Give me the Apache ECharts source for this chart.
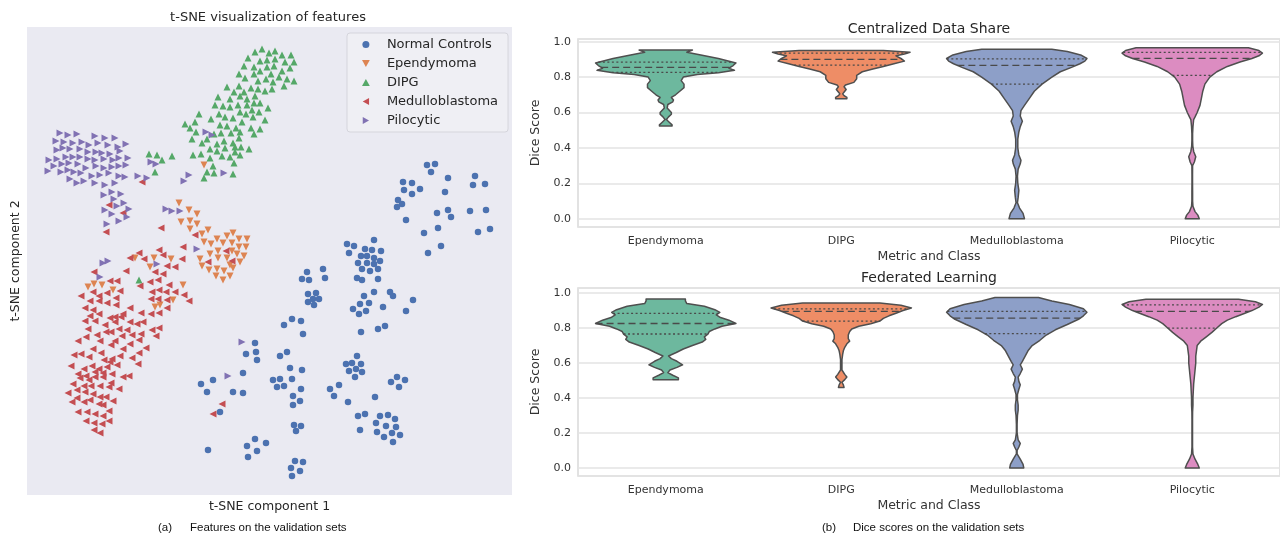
<!DOCTYPE html>
<html>
<head>
<meta charset="utf-8">
<script src="https://cdn.jsdelivr.net/npm/echarts@6/dist/echarts.min.js"></script>
<style>
  html, body { margin: 0; padding: 0; background: #ffffff; }
  #chart { width: 1280px; height: 535px; }
</style>
</head>
<body>
<div id="chart"></div>
<script>
// ---------- t-SNE embedding (component 1, component 2) ----------
const normalControls = [
  [15.7,9.5],[16.5,9.6],[16.1,8.8],[17.8,8.2],[13.3,7.8],[14.2,7.7],[13.4,7.0],[14.2,6.6],[15.0,7.1],[17.5,6.8],
  [20.5,8.4],[20.3,7.5],[21.5,7.6],[12.8,6.0],[13.2,5.6],[12.7,5.3],[13.6,4.0],[16.7,4.7],[17.8,5.0],[18.1,4.3],
  [20.0,4.9],[21.6,5.0],[16.8,3.2],[15.4,2.7],[20.8,2.8],[22.0,3.1],[17.1,1.4],[15.8,0.7],
  [10.4,2.0],[7.7,1.6],[8.4,1.4],[7.9,0.7],[9.5,1.1],[10.2,1.0],[11.1,0.9],[9.1,0.4],[9.7,0.4],[10.4,0.2],
  [8.8,-0.3],[9.7,-0.3],[10.4,-0.4],[11.0,-0.1],[9.2,-0.9],[10.0,-1.1],[10.8,-0.9],[8.7,-1.8],[9.2,-2.0],[10.8,-1.9],
  [3.7,-1.2],[5.3,-0.9],[3.2,-1.9],[3.9,-2.0],[5.5,-1.8],
  [3.8,-3.4],[4.6,-3.3],[4.3,-3.9],[4.9,-3.9],[3.8,-4.2],[4.4,-4.5],
  [9.4,-3.6],[10.4,-3.2],[12.0,-3.2],[12.3,-3.6],[14.3,-4.0],[8.3,-4.9],[9.0,-4.4],[9.9,-4.3],[9.6,-5.1],[11.3,-4.7],
  [8.9,-5.4],[13.6,-5.1],[9.1,-7.2],[10.8,-6.9],[11.5,-6.6],
  [2.2,-5.9],[3.1,-6.1],[1.4,-6.5],[3.3,-7.4],
  [-1.5,-8.3],[-2.4,-9.4],[-1.4,-9.2],[-1.3,-10.0],[1.0,-9.6],[1.7,-9.2],
  [2.0,-10.8],[3.2,-11.0],[0.3,-12.0],[1.0,-11.9],[2.2,-11.9],[0.7,-12.7],[1.4,-12.6],[3.1,-12.9],[2.3,-13.6],[3.0,-14.1],[2.3,-14.5],
  [-2.7,-11.3],[-6.9,-12.4],[-5.7,-12.0],[-6.3,-13.2],[-3.7,-13.2],[-2.7,-13.3],[-5.0,-15.2],
  [8.7,-9.6],[7.6,-10.4],[8.2,-10.3],[9.1,-10.4],[7.9,-11.1],[8.6,-10.9],[9.2,-11.2],[8.5,-11.7],
  [12.7,-11.7],[12.1,-12.2],[13.5,-12.0],[12.9,-12.7],
  [6.0,-12.9],[6.9,-12.5],[6.4,-13.6],[7.8,-14.2],[10.5,-13.7],
  [8.8,-15.6],[9.5,-15.4],[9.0,-17.0],[11.0,-15.6],[11.8,-15.5],[12.5,-15.9],[10.6,-16.3],[11.6,-16.6],[12.6,-16.7],
  [10.7,-17.2],[12.2,-17.3],[13.0,-17.5],[11.4,-17.7],[12.3,-18.2],
  [2.4,-16.5],[3.1,-16.6],[2.6,-17.1],
  [-1.5,-17.9],[-2.3,-18.6],[-0.4,-18.3],[-1.3,-19.1],[-2.2,-19.7],[-6.2,-19.0],
  [2.5,-20.1],[3.3,-20.2],[2.1,-20.8],[3.0,-21.1],[2.2,-21.6]
];

const ependymoma = [
  [-6.6,9.5],
  [-9.1,5.7],[-8.1,5.0],[-7.3,4.6],[-8.9,3.8],[-8.0,3.9],[-7.3,3.6],[-8.0,3.1],[-6.8,2.6],[-6.2,3.0],
  [-6.6,1.8],[-5.3,2.1],[-4.3,2.4],[-3.7,2.7],[-3.1,2.1],[-2.3,2.1],[-5.9,1.6],[-4.7,1.7],[-3.8,1.7],[-3.1,1.3],
  [-2.4,1.3],[-5.2,0.9],[-3.8,0.9],[-3.3,0.6],[-2.6,0.4],[-7.0,0.1],[-6.0,0.6],[-5.2,0.2],[-4.3,0.2],[-3.0,-0.2],
  [-6.8,-0.6],[-6.1,-1.0],[-5.3,-0.9],[-4.6,-1.1],[-4.0,-0.5],[-3.7,-0.8],[-5.4,-1.6],[-4.7,-2.0],[-4.0,-1.6],
  [-13.5,0.2],[-11.6,0.2],[-9.9,0.1],[-12.0,-0.7],[-18.2,-2.7],[-17.6,-2.4],[-16.8,-2.5],[-15.7,-3.0],
  [-8.7,-2.5],[-9.7,-4.0],[-11.5,-4.7],[-11.0,-4.5]
];

const dipg = [
  [-1.5,20.8],[-0.8,21.1],[-0.1,20.7],[0.5,20.9],[1.2,20.5],[2.1,20.5],[-2.2,20.2],[-1.0,19.9],[-0.3,20.0],[0.5,20.1],
  [1.5,19.8],[2.4,19.8],[-2.6,19.4],[-1.6,19.3],[-0.3,19.3],[0.4,19.4],[2.0,19.2],[-3.1,18.6],[-2.5,18.2],[-1.6,18.6],
  [-1.0,18.9],[0.1,18.6],[1.2,18.9],[-1.2,17.9],[-0.4,18.1],[0.3,17.8],[0.9,18.3],[1.7,18.1],[2.4,17.9],
  [-4.3,17.3],[-3.1,17.4],[-3.6,16.8],[-2.6,16.8],[-1.9,17.2],[-1.2,17.1],[-0.5,16.9],[0.2,17.1],[1.4,17.4],
  [-5.2,16.3],[-4.0,16.1],[-3.0,16.4],[-2.3,16.1],[-1.5,16.4],
  [-5.5,15.5],[-4.7,15.4],[-4.0,15.3],[-3.2,15.5],[-2.3,15.5],[-1.6,15.7],[-1.0,15.7],[-0.2,15.2],
  [-7.1,14.6],[-5.1,14.6],[-4.5,14.3],[-3.7,14.2],[-3.0,14.8],[-2.4,14.6],[-1.8,15.0],[-1.1,14.8],[-0.5,14.0],[-1.7,14.3],
  [-5.9,14.1],[-7.5,13.8],[-8.5,13.6],[-8.0,13.2],[-5.0,13.5],[-4.3,13.4],[-3.4,13.2],[-2.8,13.8],[-1.9,13.2],[-1.0,13.1],
  [-7.4,12.8],[-5.6,12.6],[-4.9,12.7],[-3.9,12.7],[-3.0,12.8],[-1.6,12.6],
  [-7.8,12.1],[-6.3,12.1],[-4.6,11.9],[-3.7,11.7],[-3.1,12.2],
  [-6.8,11.7],[-5.3,11.6],[-6.0,11.1],[-4.5,11.2],[-3.5,11.3],[-2.9,11.3],[-2.1,11.1],
  [-5.3,10.9],[-4.8,10.4],[-4.0,10.3],[-3.5,10.8],[-3.0,10.5],
  [-7.7,10.5],[-6.9,10.6],[-6.0,10.2],[-5.7,9.4],[-3.6,9.7],[-6.3,8.8],[-5.6,8.7],[-6.6,8.2],[-3.7,8.6],
  [-12.1,10.6],[-11.3,10.5],[-10.8,10.0],[-9.8,10.4],[-11.5,8.8],
  [-13.1,-2.0]
];

const medulloblastoma = [
  [-16.1,5.5],[-14.7,4.7],[-16.4,2.8],[-12.8,7.8],[-10.9,3.2],
  [-7.5,2.5],[-4.4,0.9],[-6.2,-0.2],[-3.8,-0.1],
  [-8.7,1.3],[-11.1,1.0],[-13.1,0.7],[-10.7,0.5],[-14.0,0.2],[-12.6,0.1],[-8.8,0.1],[-10.3,-0.6],[-9.5,-0.7],
  [-11.5,-1.2],[-10.7,-1.4],[-14.4,-1.1],[-17.6,-1.2],[-16.0,-2.1],[-15.3,-2.1],[-11.2,-2.0],[-12.0,-2.2],[-13.0,-2.6],[-10.1,-2.5],
  [-18.9,-3.6],[-17.7,-3.2],[-17.1,-3.6],[-16.3,-3.3],[-15.0,-3.1],[-11.1,-3.0],[-11.8,-3.2],[-10.4,-3.2],[-9.5,-3.2],[-8.6,-3.5],
  [-11.9,-3.9],[-11.2,-3.9],[-10.3,-4.0],[-8.1,-4.1],[-18.0,-4.1],[-17.1,-4.1],[-16.3,-4.3],[-15.4,-3.8],
  [-18.5,-4.8],[-17.7,-5.0],[-15.4,-4.5],[-14.0,-4.8],[-10.3,-4.8],[-14.7,-5.4],[-15.5,-5.7],[-16.0,-5.8],
  [-12.9,-5.3],[-11.9,-5.4],[-11.1,-5.3],[-17.1,-5.4],[-18.0,-5.6],
  [-18.5,-6.1],[-17.5,-6.1],[-16.5,-6.5],[-15.5,-6.2],[-14.9,-5.7],[-14.0,-6.2],[-13.3,-6.4],[-12.7,-6.2],[-11.8,-7.0],[-11.1,-6.8],[-11.4,-7.6],
  [-18.2,-6.9],[-17.3,-7.5],[-16.4,-7.2],[-15.9,-7.2],[-15.1,-6.9],[-14.3,-7.0],[-13.8,-7.5],[-12.9,-7.4],
  [-19.2,-8.1],[-18.4,-7.7],[-17.0,-8.1],[-15.5,-8.1],[-14.8,-7.6],[-13.1,-8.0],
  [-17.7,-8.9],[-16.9,-9.3],[-15.9,-8.5],[-14.7,-8.9],[-14.0,-8.4],[-13.1,-9.3],[-12.4,-8.8],
  [-19.6,-9.5],[-18.9,-9.4],[-18.1,-9.7],[-16.6,-10.0],[-15.8,-9.9],[-15.0,-9.6],[-13.8,-9.8],
  [-19.9,-10.6],[-18.6,-10.9],[-17.8,-10.6],[-17.1,-10.9],[-16.3,-10.7],[-16.0,-10.2],[-15.3,-10.5],[-13.2,-10.4],
  [-19.2,-11.4],[-18.4,-11.6],[-17.5,-11.2],[-16.7,-11.3],[-15.8,-11.4],[-14.7,-11.7],[-14.1,-11.6],
  [-19.7,-12.4],[-19.0,-11.8],[-18.1,-12.0],[-17.5,-11.7],[-16.7,-11.7],[-15.9,-12.3],[-15.1,-12.9],
  [-18.6,-12.6],[-17.9,-12.6],[-17.0,-12.6],[-16.1,-12.7],
  [-20.2,-13.3],[-19.3,-13.0],[-18.5,-13.2],[-17.7,-13.4],[-17.0,-13.7],[-16.4,-13.7],
  [-19.3,-13.8],[-18.6,-14.2],[-18.0,-14.0],[-17.1,-14.4],[-15.7,-14.1],[-19.8,-14.2],[-16.7,-14.5],
  [-19.2,-15.2],[-18.3,-15.2],[-17.5,-15.4],[-16.7,-15.6],[-16.1,-15.1],
  [-18.4,-16.1],[-17.6,-16.3],[-16.8,-16.4],[-16.1,-16.1],[-17.6,-17.0],[-17.0,-17.3],
  [-4.8,-14.4],[-5.7,-15.4]
];

const pilocytic = [
  [-21.0,12.7],[-20.2,12.5],[-19.3,12.6],[-17.5,12.4],[-16.5,12.2],[-15.5,12.2],[-14.4,11.6],
  [-21.4,11.9],[-20.6,11.8],[-19.7,11.7],[-18.8,11.8],[-18.1,11.5],[-17.2,11.7],[-16.2,11.5],[-15.2,11.3],
  [-21.3,11.0],[-20.7,11.2],[-20.0,11.1],[-19.0,11.1],[-18.2,10.8],[-17.4,10.8],[-16.8,10.7],[-16.0,10.6],[-15.0,10.9],
  [-22.1,10.0],[-21.3,10.1],[-20.4,10.3],[-19.7,10.3],[-19.0,10.3],[-18.2,10.1],[-17.5,10.0],[-16.6,10.1],[-15.7,10.0],[-15.1,10.2],[-14.2,10.2],
  [-21.6,9.4],[-20.8,9.6],[-20.1,9.7],[-19.2,9.6],[-18.4,9.2],[-17.4,9.4],[-16.6,9.2],[-15.8,9.3],[-15.1,9.4],[-14.4,9.5],
  [-22.2,8.9],[-20.9,8.8],[-20.2,9.0],[-19.6,8.8],[-18.9,8.7],[-17.8,8.4],[-17.0,8.5],[-16.1,8.7],[-15.1,8.4],[-14.5,8.3],
  [-20.0,8.1],[-19.3,7.7],[-18.6,7.9],[-17.5,7.7],[-16.5,7.5],[-15.5,7.7],
  [-16.6,6.5],[-15.8,6.8],[-14.9,6.6],[-15.6,6.1],[-14.6,5.7],[-15.3,5.4],[-16.5,5.0],[-15.8,4.6],[-14.1,5.1],[-14.3,4.3],
  [-16.3,3.6],[-15.1,3.9],
  [-6.4,12.8],[-5.8,12.5],[-11.9,9.8],[-11.4,9.6],[-13.2,8.4],[-12.3,8.2],[-8.1,8.5],[-8.6,7.9],[-4.6,8.7],
  [-10.4,5.1],[-9.8,4.9],[-9.0,4.9],
  [-7.3,1.1],[-16.7,-0.3],[-16.2,-0.1],[-11.3,-0.4],[-17.0,-1.7],
  [-2.8,-8.2],[-4.2,-11.6]
];

const scatterClasses = ['Normal Controls', 'Ependymoma', 'DIPG', 'Medulloblastoma', 'Pilocytic'];
const scatterColors = ['#4C72B0', '#DD8452', '#55A868', '#C44E52', '#8172B3'];

// ---------- Dice score violins ----------
const violinClasses = ['Ependymoma', 'DIPG', 'Medulloblastoma', 'Pilocytic'];
const violinColors = ['#6DB89E', '#EE8D66', '#8D9FC8', '#DC8CC1'];
const yTicks = [0.0, 0.2, 0.4, 0.6, 0.8, 1.0];

// density outline per class: dice values (top to bottom) and relative half-widths
const cenEpeY = [0.953,0.94,0.925,0.905,0.88,0.865,0.85,0.838,0.825,0.815,0.80,0.78,0.76,0.74,0.72,0.70,0.685,0.67,0.66,0.645,0.625,0.60,0.59,0.575,0.56,0.545,0.53,0.524];
const cenEpeW = [0.38,0.30,0.50,0.75,1.0,0.96,0.90,0.98,0.75,0.45,0.25,0.22,0.26,0.26,0.20,0.14,0.08,0.11,0.10,0.03,0.02,0.08,0.08,0.04,0.01,0.05,0.09,0.09];
const cenDipY = [0.95,0.94,0.93,0.92,0.905,0.89,0.875,0.86,0.845,0.83,0.81,0.79,0.77,0.755,0.745,0.73,0.72,0.705,0.695,0.685,0.678];
const cenDipW = [0.6,0.98,0.9,0.78,0.85,0.9,0.75,0.6,0.45,0.3,0.22,0.22,0.18,0.06,0.04,0.07,0.05,0.02,0.04,0.08,0.08];
const cenMedY = [0.957,0.944,0.925,0.905,0.89,0.875,0.855,0.83,0.80,0.76,0.72,0.68,0.64,0.61,0.58,0.55,0.52,0.49,0.45,0.40,0.36,0.33,0.31,0.28,0.24,0.20,0.16,0.12,0.09,0.06,0.03,0.0];
const cenMedW = [0.5,0.72,0.91,1.0,0.97,0.9,0.78,0.62,0.5,0.36,0.25,0.18,0.11,0.06,0.05,0.08,0.05,0.03,0.015,0.015,0.03,0.06,0.05,0.02,0.01,0.015,0.03,0.02,0.01,0.04,0.09,0.11];
const cenPilY = [0.965,0.95,0.935,0.92,0.905,0.885,0.86,0.83,0.80,0.76,0.72,0.68,0.64,0.60,0.575,0.56,0.52,0.48,0.44,0.41,0.38,0.35,0.32,0.30,0.25,0.20,0.15,0.10,0.07,0.04,0.02,0.0];
const cenPilW = [0.8,0.95,1.0,0.95,0.85,0.68,0.5,0.35,0.25,0.18,0.15,0.13,0.11,0.07,0.04,0.02,0.01,0.005,0.005,0.008,0.02,0.05,0.03,0.005,0.004,0.004,0.005,0.005,0.01,0.04,0.08,0.1];

const fedEpeY = [0.966,0.955,0.94,0.925,0.905,0.89,0.875,0.86,0.845,0.826,0.81,0.795,0.78,0.765,0.75,0.735,0.72,0.70,0.68,0.66,0.64,0.625,0.61,0.59,0.575,0.56,0.545,0.53,0.515,0.505];
const fedEpeW = [0.28,0.28,0.3,0.55,0.7,0.77,0.72,0.78,0.9,1.0,0.8,0.7,0.62,0.6,0.55,0.57,0.52,0.38,0.25,0.15,0.04,0.08,0.16,0.24,0.16,0.06,0.03,0.1,0.18,0.18];
const fedDipY = [0.943,0.93,0.915,0.9,0.885,0.87,0.855,0.84,0.825,0.81,0.795,0.78,0.76,0.74,0.725,0.71,0.69,0.67,0.65,0.62,0.59,0.56,0.535,0.52,0.505,0.49,0.475,0.46];
const fedDipW = [0.55,0.85,1.0,0.88,0.78,0.68,0.6,0.55,0.42,0.25,0.15,0.12,0.1,0.1,0.12,0.08,0.05,0.03,0.02,0.01,0.01,0.01,0.05,0.08,0.05,0.01,0.03,0.04];
const fedMedY = [0.975,0.955,0.935,0.91,0.89,0.87,0.85,0.82,0.79,0.76,0.73,0.70,0.67,0.64,0.61,0.59,0.565,0.54,0.52,0.495,0.475,0.45,0.42,0.39,0.36,0.33,0.30,0.25,0.20,0.16,0.14,0.12,0.10,0.08,0.05,0.02,0.0];
const fedMedW = [0.31,0.5,0.75,0.95,1.0,0.95,0.88,0.72,0.55,0.42,0.33,0.22,0.16,0.12,0.08,0.05,0.08,0.05,0.02,0.03,0.05,0.03,0.01,0.01,0.02,0.02,0.01,0.005,0.005,0.02,0.05,0.03,0.005,0.005,0.05,0.09,0.1];
const fedPilY = [0.965,0.95,0.935,0.92,0.9,0.885,0.865,0.845,0.825,0.80,0.775,0.75,0.725,0.70,0.67,0.64,0.60,0.56,0.52,0.48,0.44,0.40,0.36,0.32,0.28,0.20,0.12,0.08,0.05,0.02,0.0];
const fedPilW = [0.66,0.9,1.0,0.95,0.85,0.75,0.62,0.5,0.42,0.35,0.28,0.2,0.12,0.07,0.06,0.05,0.05,0.04,0.03,0.02,0.015,0.01,0.01,0.005,0.004,0.004,0.004,0.01,0.04,0.08,0.1];

// quartiles [q1, median, q3] per class
const cenQuartiles = [[0.826,0.855,0.884],[0.867,0.900,0.935],[0.760,0.866,0.903],[0.810,0.905,0.940]];
const fedQuartiles = [[0.766,0.826,0.884],[0.840,0.895,0.910],[0.768,0.857,0.895],[0.800,0.895,0.933]];

const cenProfiles = [[cenEpeY,cenEpeW],[cenDipY,cenDipW],[cenMedY,cenMedW],[cenPilY,cenPilW]];
const fedProfiles = [[fedEpeY,fedEpeW],[fedDipY,fedDipW],[fedMedY,fedMedW],[fedPilY,fedPilW]];

// ---------- marker shapes ----------
const SYM_DOWN = 'path://M0,0 L10,0 L5,9 Z';
const SYM_UP = 'path://M5,0 L10,9 L0,9 Z';
const SYM_LEFT = 'path://M0,5 L9,0 L9,10 Z';
const SYM_RIGHT = 'path://M0,0 L9,5 L0,10 Z';
const scatterSymbols = ['circle', SYM_DOWN, SYM_UP, SYM_LEFT, SYM_RIGHT];
const scatterData = [normalControls, ependymoma, dipg, medulloblastoma, pilocytic];

function widthAt(ys, ws, v) {
  for (let k = 0; k < ys.length - 1; k++) {
    const a = ys[k], b = ys[k + 1];
    if (v <= a && v >= b) {
      const t = (a - v) / (a - b || 1);
      return ws[k] + t * (ws[k + 1] - ws[k]);
    }
  }
  return 0;
}

function violinRenderer(profiles, quartiles) {
  return function (params, api) {
    const i = api.value(0);
    const ys = profiles[i][0], ws = profiles[i][1];
    const band = api.size([1, 0])[0];
    const half = band * 0.4;
    const cx = api.coord([i, 0])[0];
    const right = [], left = [];
    for (let k = 0; k < ys.length; k++) {
      const py = api.coord([i, ys[k]])[1];
      right.push([cx + ws[k] * half, py]);
      left.unshift([cx - ws[k] * half, py]);
    }
    const children = [{
      type: 'polygon',
      shape: { points: right.concat(left) },
      style: { fill: violinColors[i], stroke: '#4f4f4f', lineWidth: 1.5, lineJoin: 'round' }
    }];
    quartiles[i].forEach(function (q, j) {
      const w = widthAt(ys, ws, q) * half;
      const py = api.coord([i, q])[1];
      children.push({
        type: 'line',
        shape: { x1: cx - w, y1: py, x2: cx + w, y2: py },
        style: { stroke: '#4a4a4a', lineWidth: 1.3, lineDash: j === 1 ? [7, 4] : [2, 2.5] }
      });
    });
    return { type: 'group', children: children };
  };
}

const chart = echarts.init(document.getElementById('chart'), null, { renderer: 'canvas' });

const violinYAxis = function (gridIndex, minV, maxV) {
  return {
    type: 'value', gridIndex: gridIndex, min: minV, max: maxV, splitNumber: 5,
    name: 'Dice Score', nameLocation: 'middle', nameGap: 24,
    nameTextStyle: { fontFamily: 'DejaVu Sans', fontSize: 12.5, color: '#333' },
    axisLine: { show: false }, axisTick: { show: false },
    axisLabel: {
      fontFamily: 'DejaVu Sans', fontSize: 11, color: '#333', margin: 7,
      showMinLabel: false, showMaxLabel: false,
      formatter: function (v) { return yTicks.some(function (t) { return Math.abs(t - v) < 1e-6; }) ? v.toFixed(1) : ''; }
    },
    splitLine: { show: true, lineStyle: { color: '#e3e3e3', width: 1.5 } }
  };
};
const violinXAxis = function (gridIndex) {
  return {
    type: 'category', gridIndex: gridIndex, data: violinClasses,
    name: 'Metric and Class', nameLocation: 'middle', nameGap: 23,
    nameTextStyle: { fontFamily: 'DejaVu Sans', fontSize: 12.5, color: '#333' },
    axisLine: { show: false }, axisTick: { show: false },
    axisLabel: { fontFamily: 'DejaVu Sans', fontSize: 11, color: '#333', margin: 9 },
    splitLine: { show: false }
  };
};

const option = {
  animation: false,
  backgroundColor: '#ffffff',
  grid: [
    { left: 27, top: 27, width: 485, height: 468, show: true, backgroundColor: '#EAEAF2', borderWidth: 0 },
    { left: 578, top: 39, width: 704, height: 188, show: true, borderColor: '#d9d9d9', borderWidth: 1.5 },
    { left: 578, top: 288, width: 704, height: 188, show: true, borderColor: '#d9d9d9', borderWidth: 1.5 }
  ],
  xAxis: [
    {
      type: 'value', gridIndex: 0, min: -24.3, max: 24.2,
      name: 't-SNE component 1', nameLocation: 'middle', nameGap: 5,
      nameTextStyle: { fontFamily: 'DejaVu Sans', fontSize: 12.5, color: '#262626', verticalAlign: 'top' },
      axisLine: { show: false }, axisTick: { show: false }, axisLabel: { show: false }, splitLine: { show: false }
    },
    violinXAxis(1),
    violinXAxis(2)
  ],
  yAxis: [
    {
      type: 'value', gridIndex: 0, min: -23.5, max: 23.3,
      name: 't-SNE component 2', nameLocation: 'middle', nameGap: 5,
      nameTextStyle: { fontFamily: 'DejaVu Sans', fontSize: 12.5, color: '#262626' },
      axisLine: { show: false }, axisTick: { show: false }, axisLabel: { show: false }, splitLine: { show: false }
    },
    violinYAxis(1, -0.047, 1.015),
    violinYAxis(2, -0.046, 1.029)
  ],
  legend: {
    data: scatterClasses.map(function (n, i) { return { name: n, icon: scatterSymbols[i] }; }),
    orient: 'vertical', left: 347, top: 33, width: 163,
    itemWidth: 8, itemHeight: 7, itemGap: 6,
    padding: [5, 10, 5, 15],
    backgroundColor: 'rgba(240,240,245,0.85)', borderColor: '#d5d5dc', borderWidth: 1, borderRadius: 3,
    textStyle: { fontFamily: 'DejaVu Sans', fontSize: 13, color: '#262626', padding: [0, 0, 0, 12] }
  },
  graphic: [
    { type: 'text', x: 268, y: 18, style: { text: 't-SNE visualization of features', font: '13px "DejaVu Sans"', fill: '#262626', textAlign: 'center', textVerticalAlign: 'middle' } },
    { type: 'text', x: 929, y: 29, style: { text: 'Centralized Data Share', font: '14px "DejaVu Sans"', fill: '#262626', textAlign: 'center', textVerticalAlign: 'middle' } },
    { type: 'text', x: 929, y: 278, style: { text: 'Federated Learning', font: '14px "DejaVu Sans"', fill: '#262626', textAlign: 'center', textVerticalAlign: 'middle' } },
    { type: 'text', x: 158, y: 528, style: { text: '(a)', font: '11.5px "Liberation Sans"', fill: '#111', textVerticalAlign: 'middle' } },
    { type: 'text', x: 190, y: 528, style: { text: 'Features on the validation sets', font: '11.5px "Liberation Sans"', fill: '#111', textVerticalAlign: 'middle' } },
    { type: 'text', x: 822, y: 528, style: { text: '(b)', font: '11.5px "Liberation Sans"', fill: '#111', textVerticalAlign: 'middle' } },
    { type: 'text', x: 853, y: 528, style: { text: 'Dice scores on the validation sets', font: '11.5px "Liberation Sans"', fill: '#111', textVerticalAlign: 'middle' } }
  ],
  series: scatterClasses.map(function (name, i) {
    return {
      type: 'scatter', name: name, xAxisIndex: 0, yAxisIndex: 0,
      data: scatterData[i], symbol: scatterSymbols[i], symbolSize: i === 0 ? 6.5 : 7,
      itemStyle: { color: scatterColors[i], opacity: 1 }
    };
  }).concat([
    {
      type: 'custom', name: 'centralized', xAxisIndex: 1, yAxisIndex: 1,
      renderItem: violinRenderer(cenProfiles, cenQuartiles),
      data: violinClasses.map(function (c, i) { return [i]; }), clip: false, z: 3
    },
    {
      type: 'custom', name: 'federated', xAxisIndex: 2, yAxisIndex: 2,
      renderItem: violinRenderer(fedProfiles, fedQuartiles),
      data: violinClasses.map(function (c, i) { return [i]; }), clip: false, z: 3
    }
  ])
};

chart.setOption(option);
</script>
</body>
</html>
